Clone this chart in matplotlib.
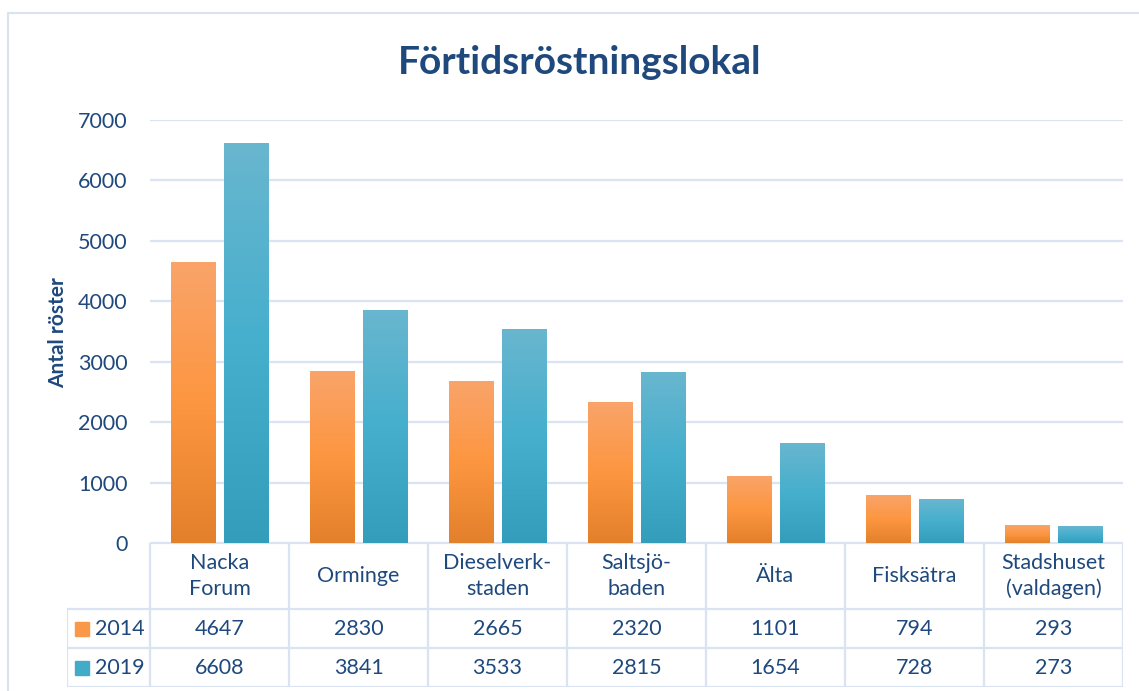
import matplotlib
matplotlib.use('Agg')
import matplotlib.pyplot as plt
import numpy as np
from matplotlib.colors import LinearSegmentedColormap
from matplotlib.patches import Rectangle

plt.rcParams['font.family'] = ['Lato', 'DejaVu Sans']

categories = ['Nacka\nForum', 'Orminge', 'Dieselverk-\nstaden', 'Saltsjö-\nbaden',
              'Älta', 'Fisksätra', 'Stadshuset\n(valdagen)']
years = ['2014', '2019']
votes2014 = [4647, 2830, 2665, 2320, 1101, 794, 293]
votes2019 = [6608, 3841, 3533, 2815, 1654, 728, 273]
yticks = [0, 1000, 2000, 3000, 4000, 5000, 6000, 7000]

textColor = '#1F497D'
gridColor = '#D9E3F2'
orangeMap = LinearSegmentedColormap.from_list(
    'or', [(0, '#E3802B'), (0.5, '#FD9640'), (1, '#F9A46A')])
tealMap = LinearSegmentedColormap.from_list(
    'te', [(0, '#349DBB'), (0.5, '#45AFCD'), (1, '#69B6CF')])

W, H = 1139, 691
fig = plt.figure(figsize=(W/100, H/100), dpi=100)
fs = 15.5

# outer chart frame
fig.patches.append(Rectangle((8/W, -0.1), 1.2, 1 - 13/H + 0.1, transform=fig.transFigure,
                             fill=False, edgecolor=gridColor, linewidth=1.5))

ax = fig.add_axes([150/W, 1 - 543/H, 973/W, 423/H])
ax.set_yticks(yticks)
ax.set_yticklabels([str(v) for v in yticks], fontsize=fs, color=textColor)
ax.tick_params(axis='y', length=0, pad=16)
ax.set_xticks([])
for s in ax.spines.values():
    s.set_visible(False)
ax.grid(axis='y', color=gridColor, linewidth=1.6)
ax.set_axisbelow(True)

barW = 0.317
offset = 0.19
grad = np.linspace(0, 1, 256).reshape(-1, 1)
for i in range(len(categories)):
    for val, off, cmap in [(votes2014[i], -offset, orangeMap), (votes2019[i], offset, tealMap)]:
        x0 = i + off - barW/2
        ax.imshow(grad, extent=(x0, x0 + barW, 0, val), origin='lower', aspect='auto',
                  cmap=cmap, zorder=2)
ax.set_xlim(-0.5, len(categories) - 0.5)
ax.set_ylim(0, 7000)

fig.text(580/W, 1 - 62/H, 'Förtidsröstningslokal', ha='center', va='center',
         fontsize=28, fontweight='bold', color=textColor)
fig.text(58/W, 1 - 333/H, 'Antal röster', ha='center', va='center', rotation=90,
         fontsize=15, fontweight='bold', color=textColor)

# data table
colW = 139
labelLeft = -0.5 - 83/colW
tax = fig.add_axes([67/W, 1 - 687/H, (1123 - 67)/W, 144/H])
tax.set_xlim(labelLeft, len(categories) - 0.5)
tax.set_ylim(144, 0)
tax.axis('off')
rowEdges = [0, 66, 105, 144]
lineKw = dict(color=gridColor, linewidth=1.6, solid_capstyle='projecting')
tax.plot([-0.5, len(categories) - 0.5], [0, 0], **lineKw)
for y in rowEdges[1:]:
    tax.plot([labelLeft, len(categories) - 0.5], [y, y], **lineKw)
tax.plot([labelLeft, labelLeft], [66, 144], **lineKw)
for k in range(len(categories) + 1):
    tax.plot([k - 0.5, k - 0.5], [0, 144], **lineKw)

for i, name in enumerate(categories):
    tax.text(i, 33, name, ha='center', va='center', fontsize=fs, color=textColor,
             linespacing=1.35)
    tax.text(i, 86, str(votes2014[i]), ha='center', va='center', fontsize=fs, color=textColor)
    tax.text(i, 125, str(votes2019[i]), ha='center', va='center', fontsize=fs, color=textColor)

for yc, label, col in [(86, years[0], '#FA9849'), (125, years[1], '#41ABC8')]:
    tax.add_patch(Rectangle((labelLeft + 8/colW, yc - 7), 14/colW, 14, color=col,
                            clip_on=False))
    tax.text(labelLeft + 28/colW, yc, label, ha='left', va='center', fontsize=fs,
             color=textColor)

fig.savefig('out.png', dpi=100)
